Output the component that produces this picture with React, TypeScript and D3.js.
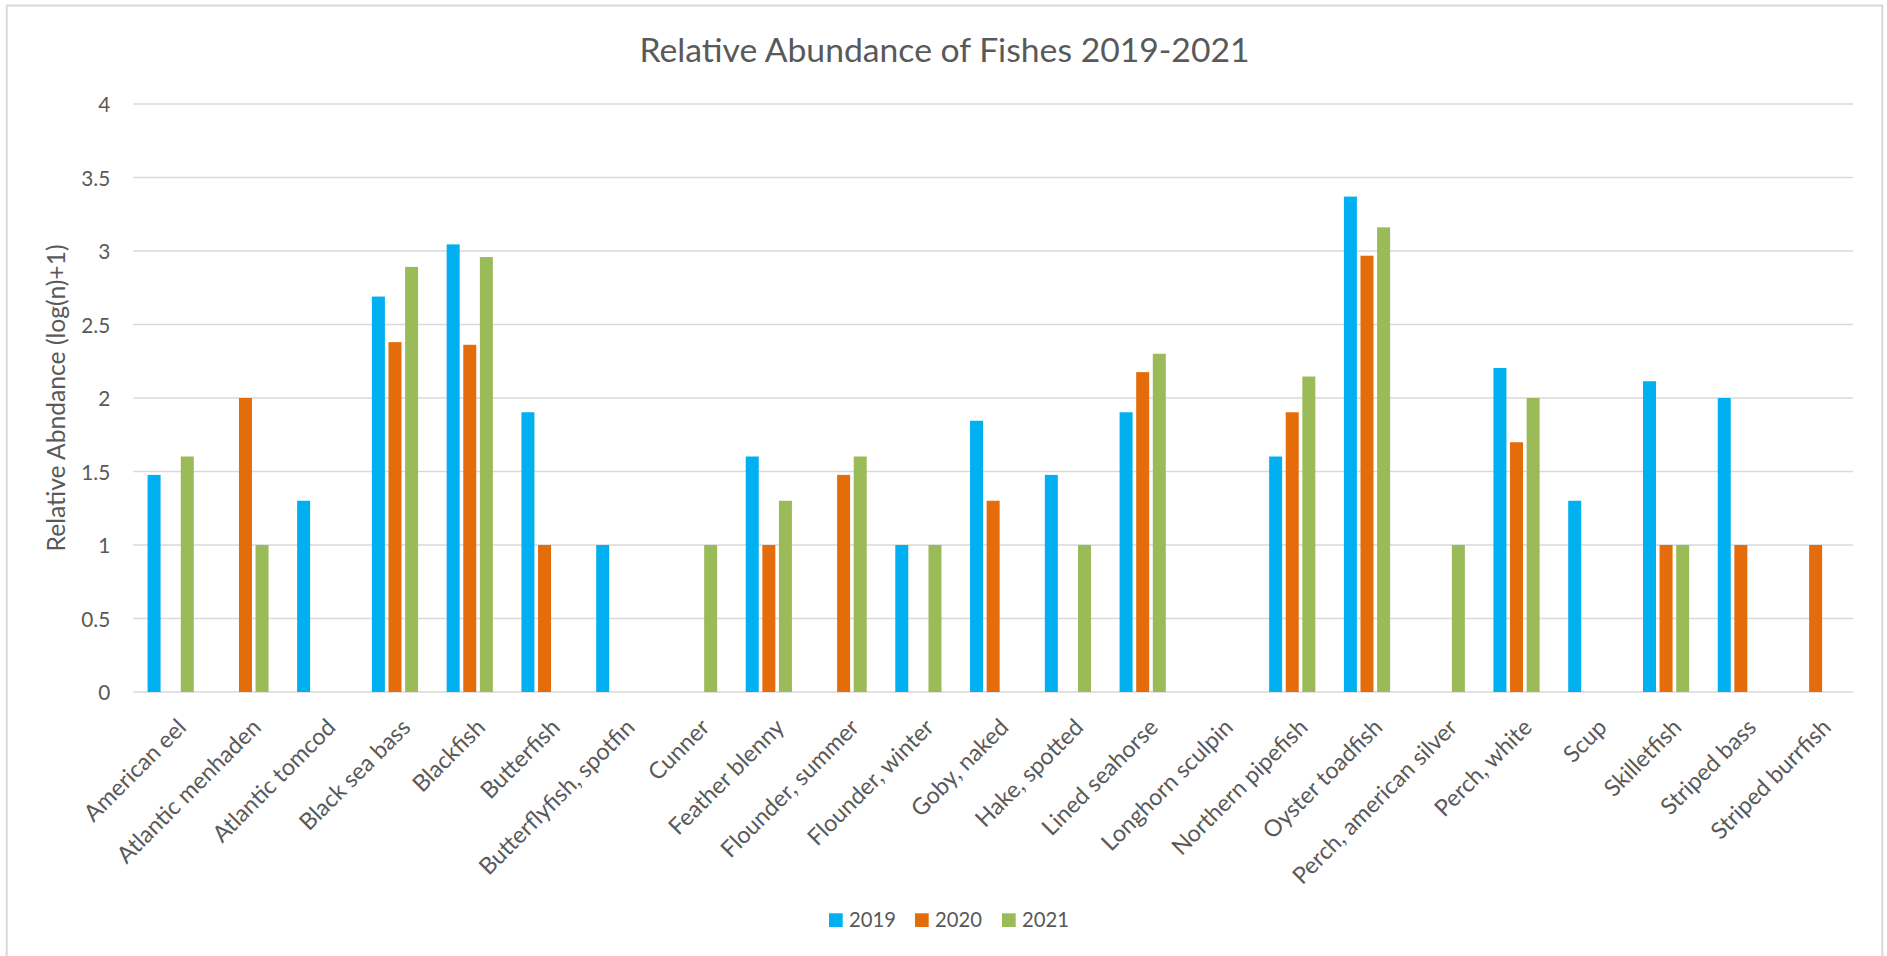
import React, { useMemo } from "react";
import * as d3 from "d3";

const categories = [
  "American eel",
  "Atlantic menhaden",
  "Atlantic tomcod",
  "Black sea bass",
  "Blackfish",
  "Butterfish",
  "Butterflyfish, spotfin",
  "Cunner",
  "Feather blenny",
  "Flounder, summer",
  "Flounder, winter",
  "Goby, naked",
  "Hake, spotted",
  "Lined seahorse",
  "Longhorn sculpin",
  "Northern pipefish",
  "Oyster toadfish",
  "Perch, american silver",
  "Perch, white",
  "Scup",
  "Skilletfish",
  "Striped bass",
  "Striped burrfish",
];

const seriesNames = ["2019", "2020", "2021"];

const values2019: (number | null)[] = [
  1.477, null, 1.301, 2.69, 3.045, 1.903, 1.0, null, 1.602, null, 1.0, 1.845,
  1.477, 1.903, null, 1.602, 3.37, null, 2.204, 1.301, 2.114, 2.0, null,
];
const values2020: (number | null)[] = [
  null, 2.0, null, 2.38, 2.362, 1.0, null, null, 1.0, 1.477, null, 1.301,
  null, 2.176, null, 1.903, 2.968, null, 1.699, null, 1.0, 1.0, 1.0,
];
const values2021: (number | null)[] = [
  1.602, 1.0, null, 2.892, 2.959, null, null, 1.0, 1.301, 1.602, 1.0, null,
  1.0, 2.301, null, 2.146, 3.161, 1.0, 2.0, null, 1.0, null, null,
];

const yTicks = [0, 0.5, 1, 1.5, 2, 2.5, 3, 3.5, 4];

const colors = ["#00B0F0", "#E46C0A", "#9BBB59"];

const titleText = "Relative Abundance of Fishes 2019-2021";
const yAxisTitle = "Relative Abndance (log(n)+1)";

const FONT = "Lato, 'Open Sans', sans-serif";

function fitSize(text: string, target: number, fallback: number, min: number, max: number) {
  try {
    const c = document.createElement("canvas");
    const ctx = c.getContext("2d");
    if (!ctx) return fallback;
    ctx.font = `100px ${FONT}`;
    const w = ctx.measureText(text).width;
    if (!w) return fallback;
    const s = (100 * target) / w;
    return Math.max(min, Math.min(max, s));
  } catch (e) {
    return fallback;
  }
}

export default function App() {
  const W = 1887;
  const H = 956;
  const plotLeft = 133.3;
  const plotRight = 1853;
  const yTop = 104;
  const yBottom = 692;
  const textColor = "#595959";
  const gridColor = "#D9D9D9";

  const sizes = useMemo(() => {
    const a = fitSize("Butterflyfish, spotfin", 210, 25, 20, 30);
    const b = fitSize("Perch, american silver", 220, 25, 20, 30);
    return {
      xLabel: (a + b) / 2,
      title: fitSize(titleText, 612, 34, 28, 40),
      yTitle: fitSize(yAxisTitle, 308, 25, 20, 30),
      legend: fitSize("2019", 47, 23, 18, 28),
      tick: fitSize("3.5", 29, 23, 18, 28),
    };
  }, []);

  const x = d3.scaleBand<string>().domain(categories).range([plotLeft, plotRight]).padding(0);
  const y = d3.scaleLinear().domain([0, 4]).range([yBottom, yTop]);
  const groupWidth = 46.2;
  const xs = d3
    .scaleBand<string>()
    .domain(seriesNames)
    .range([-groupWidth / 2, groupWidth / 2])
    .paddingInner(0.217)
    .paddingOuter(0);

  const allSeries = [values2019, values2020, values2021];
  const lf = sizes.xLabel;

  return (
    <svg
      width={W}
      height={H}
      style={{ position: "absolute", left: 0, top: 0, display: "block", background: "#fff" }}
      fontFamily={FONT}
    >
      <rect x={0} y={0} width={W} height={H} fill="#fff" />
      <rect x={6.7} y={5.5} width={1875.6} height={1000} fill="#fff" stroke={gridColor} strokeWidth={2} />

      <text x={944.5} y={61.5} textAnchor="middle" fontSize={sizes.title} fill={textColor}>
        {titleText}
      </text>

      {yTicks.map((t) => (
        <g key={t}>
          <line x1={plotLeft} x2={plotRight} y1={y(t)} y2={y(t)} stroke={gridColor} strokeWidth={1.6} />
          <text x={110.3} y={y(t) + 8.3} textAnchor="end" fontSize={sizes.tick} fill={textColor}>
            {t}
          </text>
        </g>
      ))}

      <text
        transform={`translate(${65},${(yTop + yBottom) / 2}) rotate(-90)`}
        textAnchor="middle"
        fontSize={sizes.yTitle}
        fill={textColor}
      >
        {yAxisTitle}
      </text>

      {allSeries.map((vals, si) =>
        vals.map((v, ci) => {
          if (v == null) return null;
          const cx = (x(categories[ci]) as number) + x.bandwidth() / 2;
          const bx = cx + (xs(seriesNames[si]) as number);
          return (
            <rect
              key={`${si}-${ci}`}
              x={bx}
              y={y(v)}
              width={xs.bandwidth()}
              height={y(0) - y(v)}
              fill={colors[si]}
            />
          );
        })
      )}

      {categories.map((c) => {
        const cx = (x(c) as number) + x.bandwidth() / 2;
        return (
          <text
            key={c}
            transform={`translate(${cx + 5 + 0.51 * lf},${717 + 0.51 * lf}) rotate(-45)`}
            textAnchor="end"
            fontSize={lf}
            fill={textColor}
          >
            {c}
          </text>
        );
      })}

      {seriesNames.map((s, i) => {
        const lx = [829, 915, 1002][i];
        return (
          <g key={s}>
            <rect x={lx} y={913.3} width={13.7} height={13.7} fill={colors[i]} />
            <text x={lx + 20} y={927.4} fontSize={sizes.legend} fill={textColor}>
              {s}
            </text>
          </g>
        );
      })}
    </svg>
  );
}
